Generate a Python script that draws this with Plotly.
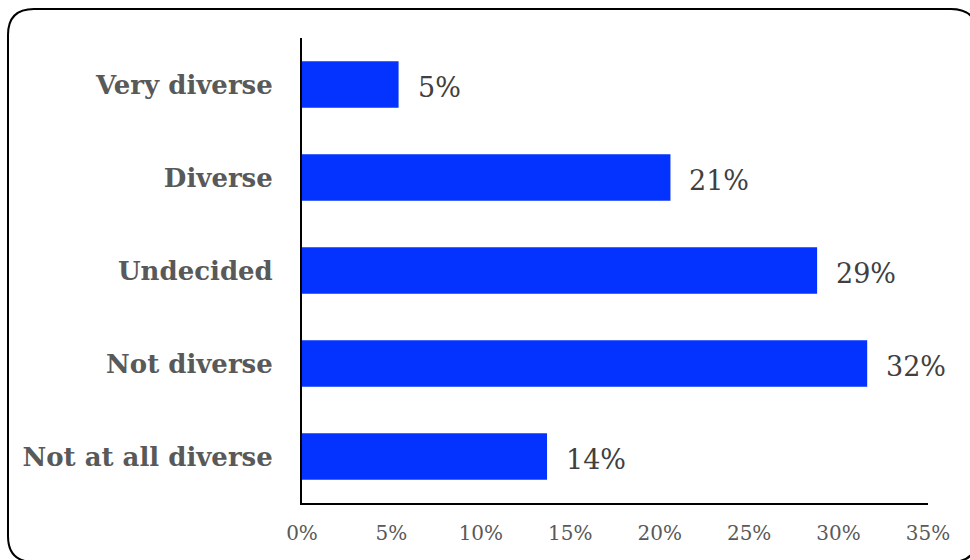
import plotly.graph_objects as go

# Survey responses: perceived diversity (share of respondents, %)
categories = ["Very diverse", "Diverse", "Undecided", "Not diverse", "Not at all diverse"]
shares = [5.4, 20.6, 28.8, 31.6, 13.7]
tick_values = [0, 5, 10, 15, 20, 25, 30, 35]
tick_labels = ["0%", "5%", "10%", "15%", "20%", "25%", "30%", "35%"]

W, H = 970, 560
L, R, T, B = 302, 42, 38, 57
pw, ph = W - L - R, H - T - B


def to_paper(px, py):
    return (px - L) / pw, (H - B - py) / ph


def rounded_rect(x0, y0, x1, y1, r):
    pts = [
        ("M", [(x0 + r, y0)]),
        ("L", [(x1 - r, y0)]),
        ("Q", [(x1, y0), (x1, y0 + r)]),
        ("L", [(x1, y1 - r)]),
        ("Q", [(x1, y1), (x1 - r, y1)]),
        ("L", [(x0 + r, y1)]),
        ("Q", [(x0, y1), (x0, y1 - r)]),
        ("L", [(x0, y0 + r)]),
        ("Q", [(x0, y0), (x0 + r, y0)]),
    ]
    parts = []
    for cmd, coords in pts:
        c = " ".join("%.5f,%.5f" % to_paper(px, py) for px, py in coords)
        parts.append(cmd + c)
    return " ".join(parts) + " Z"


fig = go.Figure(
    go.Bar(
        x=shares,
        y=categories,
        orientation="h",
        marker=dict(color="#0433ff", line=dict(width=0)),
        hoverinfo="skip",
    )
)

for cat, val in zip(categories, shares):
    fig.add_annotation(
        x=val, y=cat, xref="x", yref="y",
        text="%.0f%%" % val,
        showarrow=False, xanchor="left", yanchor="middle",
        xshift=17, yshift=-3,
        font=dict(family="DejaVu Serif", size=27, color="#404040"),
    )

fig.add_shape(
    type="path", xref="paper", yref="paper",
    path=rounded_rect(8, 9, 977, 562, 26),
    line=dict(color="black", width=2), layer="below",
)

fig.update_layout(
    width=W, height=H,
    margin=dict(l=L, r=R, t=T, b=B),
    paper_bgcolor="white", plot_bgcolor="white",
    bargap=0.5, showlegend=False,
    xaxis=dict(
        range=[0, 35], tickvals=tick_values, ticktext=tick_labels,
        showgrid=False, zeroline=False,
        showline=True, linecolor="black", linewidth=2,
        ticks="", ticklabelstandoff=11,
        tickfont=dict(family="DejaVu Serif", size=20, color="#595959"),
        fixedrange=True,
    ),
    yaxis=dict(
        autorange="reversed", categoryorder="array", categoryarray=categories,
        showgrid=False, zeroline=False,
        showline=True, linecolor="black", linewidth=2,
        ticks="", ticklabelstandoff=22,
        tickfont=dict(family="DejaVu Serif", size=26, color="#595959", weight="bold"),
        fixedrange=True,
    ),
)

fig.write_html("out.html")
